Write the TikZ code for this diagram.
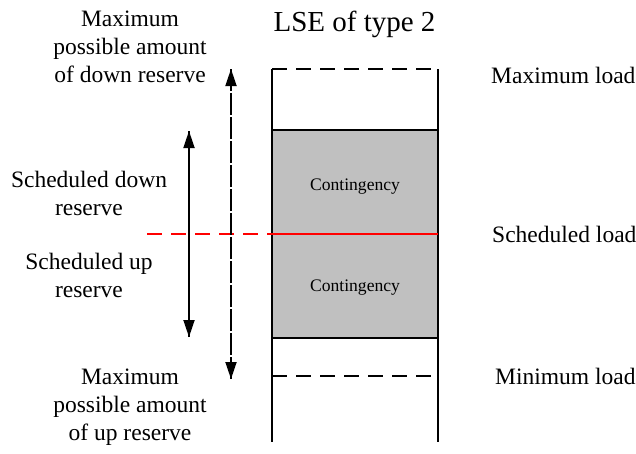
\documentclass[tikz,border=0pt]{standalone}
\usepackage{fontspec}
\setmainfont{Liberation Serif}
\usetikzlibrary{arrows.meta}
\definecolor{contgray}{HTML}{C0C0C0}
\definecolor{schedred}{HTML}{FF0000}
\begin{document}
\begin{tikzpicture}[x=1pt,y=-1pt,
  thickline/.style={line width=1.8pt},
  dashline/.style={line width=1.8pt,dash pattern=on 15pt off 9pt},
  tip/.style={-{Triangle[length=17pt,width=11pt]}},
  lbl/.style={font=\fontsize{23.5}{28}\selectfont,inner sep=0pt,align=center,anchor=base},
  small/.style={font=\fontsize{17.6}{20}\selectfont,inner sep=0pt,anchor=base}]
\useasboundingbox (0,0) rectangle (636,453);

% corner points of the load column
\coordinate (tl) at (272,69);
\coordinate (tr) at (438,69);
\coordinate (bl) at (272,442);
\coordinate (br) at (438,442);
\coordinate (gtl) at (272,130);
\coordinate (gbr) at (438,338);
\coordinate (minl) at (272,376);
\coordinate (minr) at (438,376);
\coordinate (redstart) at (147,234);
\coordinate (redl) at (272,234);
\coordinate (redr) at (438,234);
% arrow end points
\coordinate (sdtop) at (189,131);
\coordinate (sdbot) at (189,337);
\coordinate (mxtop) at (231,69);
\coordinate (mxbot) at (231,379);

% contingency band
\fill[contgray] (gtl) rectangle (gbr);
\draw[thickline] (gtl) rectangle (gbr);

% column sides and limits
\draw[thickline] (tl) -- (bl);
\draw[thickline] (tr) -- (br);
\draw[dashline] (tl) -- (tr);
\draw[dashline] (minl) -- (minr);

% scheduled load level
\draw[line width=1.6pt,schedred,dash pattern=on 15pt off 9pt] (redstart) -- (redl);
\draw[line width=1.6pt,schedred] (redl) -- (redr);

% reserve arrows
\draw[thickline,tip] (sdbot) -- (sdtop);
\draw[thickline,tip] (sdtop) -- (sdbot);
\draw[dashline,tip] (mxbot) -- (mxtop);
\draw[dashline,tip] (mxtop) -- (mxbot);

% texts (multi-line labels are placed by the baseline of their last line)
\node[font=\fontsize{29}{34}\selectfont,inner sep=0pt,anchor=base] (title) at (354.5,31.5) {LSE of type 2};
\node[small] (cont1) at (355,190) {Contingency};
\node[small] (cont2) at (355,291.5) {Contingency};

\node[lbl,anchor=base west] (maxload) at (491,83) {Maximum load};
\node[lbl,anchor=base west] (schload) at (492,242.5) {Scheduled load};
\node[lbl,anchor=base west] (minload) at (495,384.3) {Minimum load};

\node[lbl] (maxdown) at (130,82.5) {Maximum\\possible amount\\of down reserve};
\node[lbl] (schdown) at (89,215) {Scheduled down\\reserve};
\node[lbl] (schup) at (89,297.7) {Scheduled up\\reserve};
\node[lbl] (maxup) at (130,440) {Maximum\\possible amount\\of up reserve};
\end{tikzpicture}
\end{document}
